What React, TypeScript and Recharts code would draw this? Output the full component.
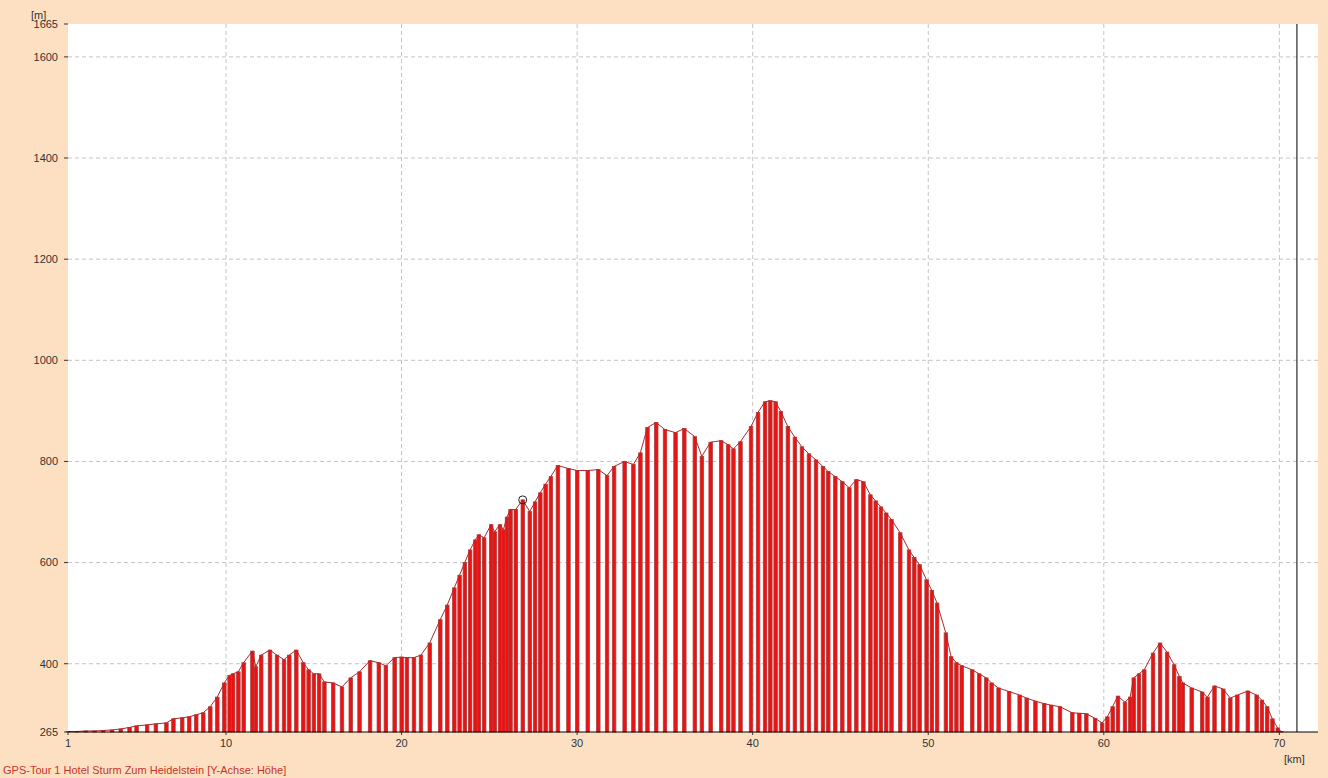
import React from 'react';
import {
  ComposedChart,
  Bar,
  Line,
  XAxis,
  YAxis,
  CartesianGrid,
  ReferenceLine,
  ReferenceDot,
} from 'recharts';

// Distance along the track (km) and elevation (m)
const distanceKm = [
  1.0, 1.5, 2.0, 2.5, 3.0, 3.5, 4.0, 4.5, 4.9, 5.5, 6.0, 6.6, 7.0, 7.5, 7.9, 8.3, 8.7, 9.1, 9.5, 9.9,
  10.2, 10.4, 10.7, 11.0, 11.5, 11.7, 12.0, 12.5, 12.9, 13.3, 13.6, 14.0, 14.4, 14.7, 15.0, 15.3, 15.6,
  16.1, 16.6, 17.1, 17.6, 18.2, 18.7, 19.1, 19.6, 20.0, 20.3, 20.7, 21.1, 21.6, 22.2, 22.6, 23.0, 23.3,
  23.6, 23.9, 24.2, 24.4, 24.7, 25.1, 25.3, 25.6, 25.8, 26.0, 26.2, 26.5, 26.9, 27.3, 27.6, 27.9, 28.2,
  28.5, 28.9, 29.5, 30.0, 30.6, 31.2, 31.7, 32.1, 32.7, 33.2, 33.6, 34.0, 34.5, 35.0, 35.6, 36.1, 36.7,
  37.1, 37.6, 38.2, 38.6, 38.9, 39.3, 39.9, 40.3, 40.7, 41.0, 41.3, 41.6, 42.0, 42.4, 42.8, 43.2, 43.6,
  44.0, 44.3, 44.7, 45.1, 45.5, 45.9, 46.3, 46.7, 47.0, 47.3, 47.6, 47.9, 48.4, 48.9, 49.2, 49.5, 49.9,
  50.2, 50.5, 51.0, 51.3, 51.6, 51.9, 52.5, 52.9, 53.3, 53.6, 54.0, 54.6, 55.2, 55.6, 56.1, 56.6, 57.0,
  57.5, 58.2, 58.6, 59.0, 59.5, 59.9, 60.2, 60.5, 60.8, 61.2, 61.5, 61.7, 62.0, 62.3, 62.8, 63.2, 63.6,
  64.0, 64.3, 64.5, 65.0, 65.6, 65.9, 66.3, 66.8, 67.2, 67.6, 68.2, 68.7, 69.0, 69.3, 69.6, 69.9, 70.1,
];

const elevationM = [
  266, 266, 267, 267, 268, 269, 271, 274, 277, 279, 281, 283, 291, 293, 295, 299, 303, 315, 334, 362,
  377, 380, 384, 402, 425, 394, 417, 427, 417, 408, 417, 427, 402, 388, 380, 380, 364,
  362, 354, 372, 384, 406, 402, 396, 412, 413, 412, 412, 417, 441, 487, 516, 550, 575,
  600, 625, 645, 655, 649, 675, 661, 675, 665, 690, 705, 705, 724, 701, 720, 738, 755,
  770, 792, 786, 782, 782, 784, 772, 790, 800, 794, 817, 867, 877, 863, 857, 865, 849,
  810, 838, 841, 833, 825, 839, 869, 897, 918, 920, 918, 899, 869, 848, 829, 815, 803,
  790, 780, 770, 760, 748, 764, 760, 734, 722, 710, 698, 685, 659, 625, 610, 596, 566,
  545, 520, 461, 414, 402, 396, 388, 380, 372, 362, 352, 345, 338, 332, 326, 321, 318,
  315, 303, 302, 301, 292, 283, 295, 315, 336, 324, 334, 372, 380, 388, 421, 441, 423,
  398, 375, 362, 352, 344, 334, 356, 350, 332, 338, 346, 338, 328, 315, 291, 273, 266,
];

const yTicks = [265, 400, 600, 800, 1000, 1200, 1400, 1600, 1665];
const xTicks = [1, 10, 20, 30, 40, 50, 60, 70];
const gridY = [400, 600, 800, 1000, 1200, 1400, 1600];
const gridX = [10, 20, 30, 40, 50, 60, 70];

const endKm = 71;
const marker = { km: 26.9, elev: 724 };

const data = distanceKm.map((km, i) => ({ km, elev: elevationM[i] }));

const font = '"Liberation Sans", Arial, sans-serif';

// each GPS point drawn as a fixed-width vertical stripe centred on its x
const Stripe = (props: any) => {
  const { x, y, width, height } = props;
  if (height == null || height <= 0) return null;
  const cx = x + width / 2;
  const w = 3.5;
  return (
    <rect
      x={cx - w / 2}
      y={y}
      width={w}
      height={height}
      fill="#f01010"
      stroke="#a84040"
      strokeWidth={0.8}
    />
  );
};

export default function App() {
  return (
    <div
      style={{
        position: 'absolute',
        left: 0,
        top: 0,
        width: 1328,
        height: 778,
        background: '#fde0c2',
        fontFamily: font,
        overflow: 'hidden',
      }}
    >
      <ComposedChart
        width={1328}
        height={778}
        data={data}
        margin={{ top: 24, right: 10, bottom: 0, left: 0 }}
      >
        <CartesianGrid
          fill="#ffffff"
          stroke="#c4c4c4"
          strokeDasharray="4 3"
          horizontalValues={gridY}
          verticalValues={gridX}
        />
        <XAxis
          dataKey="km"
          type="number"
          domain={[1, 72.2]}
          ticks={xTicks}
          interval={0}
          height={46}
          axisLine={{ stroke: '#000' }}
          tickLine={{ stroke: '#333' }}
          tickSize={3}
          tickMargin={4}
          tick={{ fontSize: 11, fill: '#333', fontFamily: font }}
        />
        <YAxis
          type="number"
          domain={[265, 1665]}
          ticks={yTicks}
          interval={0}
          width={68}
          axisLine={false}
          tickLine={{ stroke: '#333' }}
          tickSize={4}
          tickMargin={6}
          tick={{ fontSize: 11, fill: '#333', fontFamily: font }}
        />
        <Bar dataKey="elev" shape={<Stripe />} isAnimationActive={false} />
        <Line
          dataKey="elev"
          type="linear"
          stroke="#b02828"
          strokeWidth={1}
          dot={false}
          isAnimationActive={false}
        />
        <ReferenceLine x={endKm} stroke="#000" strokeWidth={1} />
        <ReferenceDot
          x={marker.km}
          y={marker.elev}
          r={4}
          fill="none"
          stroke="#222"
          strokeWidth={1}
        />
      </ComposedChart>
      <div style={{ position: 'absolute', left: 31, top: 9, fontSize: 11, color: '#333' }}>[m]</div>
      <div style={{ position: 'absolute', left: 1284, top: 753, fontSize: 11, color: '#333' }}>[km]</div>
      <div style={{ position: 'absolute', left: 3, top: 764, fontSize: 11, color: '#c8342c' }}>
        GPS-Tour 1 Hotel Sturm Zum Heidelstein [Y-Achse: Höhe]
      </div>
    </div>
  );
}
